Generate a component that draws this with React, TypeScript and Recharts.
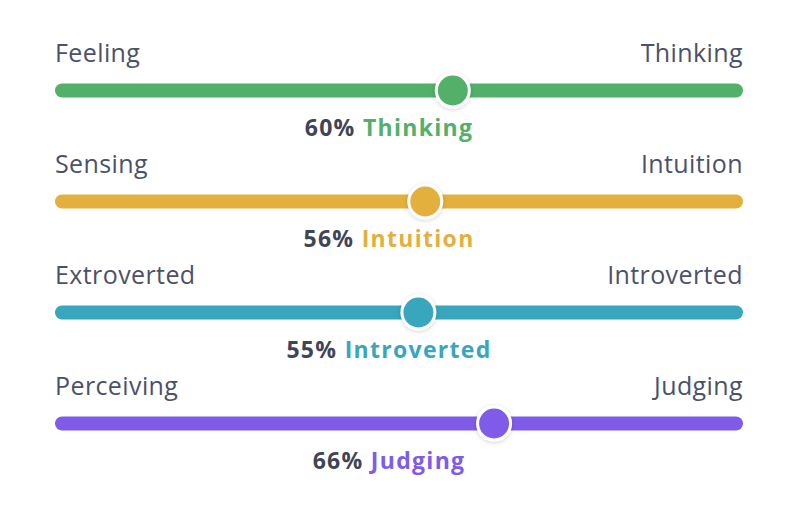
import React from 'react';
import { Bar, ComposedChart, XAxis, YAxis } from 'recharts';

const leftTraits = ['Feeling', 'Sensing', 'Extroverted', 'Perceiving'];
const rightTraits = ['Thinking', 'Intuition', 'Introverted', 'Judging'];
const scores = [60, 56, 55, 66];

const TRACK_COLORS = ['#52b068', '#e4b03d', '#38a6bc', '#7e5ce9'];
const LABEL_COLOR = '#4b5169';
const PCT_COLOR = '#3f4556';
const FONT = '"Open Sans", "DejaVu Sans", sans-serif';

const rows = scores.map((v, i) => ({
  left: leftTraits[i],
  right: rightTraits[i],
  value: v,
  color: TRACK_COLORS[i],
}));

function SliderShape(props: any) {
  const { x, y, width, height, background, payload } = props;
  if (!payload || !background) return null;
  const cy = y + height / 2;
  const trackH = 14;
  const cx = x + width - 15;
  const mid = background.x + background.width / 2;
  return (
    <g>
      <text x={background.x} y={cy - 29} fontSize={25} letterSpacing={0.4} fill={LABEL_COLOR} fontFamily={FONT} textAnchor="start">
        {payload.left}
      </text>
      <text x={background.x + background.width} y={cy - 29} fontSize={25} letterSpacing={0.4} fill={LABEL_COLOR} fontFamily={FONT} textAnchor="end">
        {payload.right}
      </text>
      <rect
        x={background.x}
        y={cy - trackH / 2}
        width={background.width}
        height={trackH}
        rx={trackH / 2}
        fill={payload.color}
      />
      <circle cx={cx} cy={cy} r={16.5} fill={payload.color} stroke="#fff" strokeWidth={3} filter="url(#knobShadow)" />
      <text x={mid - 10} y={cy + 45} fontSize={23} letterSpacing={1.3} fontWeight={700} fontFamily={FONT} textAnchor="middle">
        <tspan fill={PCT_COLOR}>{payload.value}% </tspan>
        <tspan fill={payload.color}>{payload.right}</tspan>
      </text>
    </g>
  );
}

export default function App() {
  return (
    <ComposedChart
      width={780}
      height={492}
      data={rows}
      layout="vertical"
      margin={{ top: 26.5, right: 45, bottom: 21.5, left: 47 }}
    >
      <defs>
        <filter id="knobShadow" x="-50%" y="-50%" width="200%" height="200%">
          <feDropShadow dx={0} dy={1} stdDeviation={2} floodColor="#000" floodOpacity={0.18} />
        </filter>
      </defs>
      <XAxis type="number" domain={[0, 100]} hide />
      <YAxis type="category" dataKey="right" hide padding={{ top: 0, bottom: 0 }} />
      <Bar dataKey="value" barSize={14} shape={SliderShape} isAnimationActive={false} />
    </ComposedChart>
  );
}
